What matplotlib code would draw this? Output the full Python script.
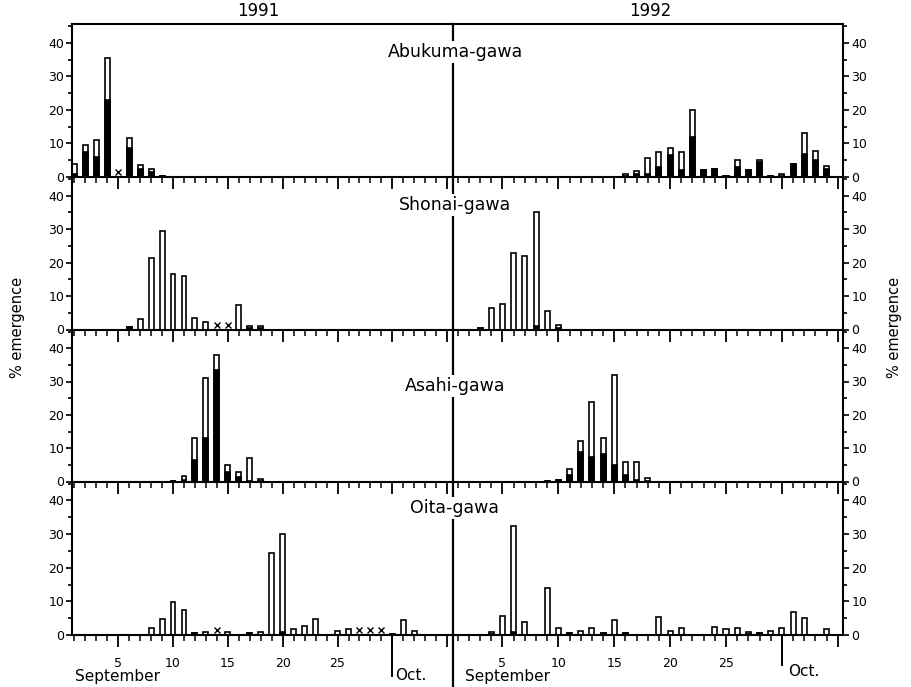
import matplotlib
matplotlib.use("Agg")
import matplotlib.pyplot as plt
from matplotlib.lines import Line2D
from matplotlib.transforms import blended_transform_factory
from matplotlib.ticker import FixedLocator, MultipleLocator

plt.rcParams['font.family'] = ['DejaVu Sans']

# ---------------- data (day of September / early October) ----------------
years = ["1991", "1992"]
rivers = ["Abukuma-gawa", "Shonai-gawa", "Asahi-gawa", "Oita-gawa"]

abukuma_1991_days = [1, 2, 3, 4, 6, 7, 8, 9]
abukuma_1991_total = [4, 9.5, 11, 35.5, 11.5, 3.5, 2.5, 0.3]
abukuma_1991_black = [1, 7.5, 6, 23, 8.5, 2.5, 1.5, 0.3]
abukuma_1991_x = [5]

abukuma_1992_days = [16, 17, 18, 19, 20, 21, 22, 23, 24, 25, 26, 27, 28, 29, 30, 31, 32, 33, 34]
abukuma_1992_total = [1, 1.7, 5.7, 7.5, 8.7, 7.5, 20, 2.2, 2.5, 0.3, 5, 2.2, 5, 0.2, 1, 3.8, 13, 7.7, 3.3]
abukuma_1992_black = [0.3, 1, 0.8, 3, 6.5, 2, 12, 2.2, 2.5, 0.3, 3, 2.2, 4.5, 0.2, 0.3, 3.8, 7, 5, 2.5]
abukuma_1992_x = []

shonai_1991_days = [6, 7, 8, 9, 10, 11, 12, 13, 16, 17, 18]
shonai_1991_total = [0.6, 3.2, 21.3, 29.4, 16.6, 16.1, 3.5, 2.2, 7.4, 1.0, 1.0]
shonai_1991_black = [0.6, 0, 0, 0, 0, 0, 0, 0, 0, 0.4, 0.4]
shonai_1991_x = [14, 15]

shonai_1992_days = [3, 4, 5, 6, 7, 8, 9, 10]
shonai_1992_total = [0.5, 6.4, 7.6, 23, 22, 35, 5.6, 1.4]
shonai_1992_black = [0.5, 0, 0, 0, 0, 1, 0, 0.3]
shonai_1992_x = []

asahi_1991_days = [10, 11, 12, 13, 14, 15, 16, 17, 18]
asahi_1991_total = [0.3, 1.6, 13.1, 31, 38, 5, 2.9, 7.1, 0.8]
asahi_1991_black = [0.3, 0.5, 6.4, 13.2, 33.5, 2.9, 1.4, 0.3, 0.3]
asahi_1991_x = []

asahi_1992_days = [9, 10, 11, 12, 13, 14, 15, 16, 17, 18]
asahi_1992_total = [0.3, 0.5, 3.8, 12.1, 23.8, 13, 32, 6, 5.8, 1.2]
asahi_1992_black = [0.3, 0.5, 2.1, 9, 7.5, 8.2, 5, 2, 0.5, 0.3]
asahi_1992_x = []

oita_1991_days = [8, 9, 10, 11, 12, 13, 15, 17, 18, 19, 20, 21, 22, 23, 25, 26, 30, 31, 32]
oita_1991_total = [2, 4.7, 9.8, 7.4, 0.7, 1, 1, 0.7, 1, 24.4, 30, 1.7, 2.8, 4.7, 1.3, 1.7, 0.3, 4.4, 1.3]
oita_1991_black = [0, 0, 0, 0, 0.5, 0, 0, 0.5, 0, 0, 1, 0, 0, 0, 0, 0, 0.3, 0, 0]
oita_1991_x = [14, 27, 28, 29]

oita_1992_days = [4, 5, 6, 7, 9, 10, 11, 12, 13, 14, 15, 16, 19, 20, 21, 24, 25, 26, 27, 28, 29, 30, 31, 32, 34]
oita_1992_total = [0.8, 5.6, 32.5, 3.8, 13.9, 2.2, 0.5, 1.2, 2.2, 0.5, 4.5, 0.5, 5.2, 1.2, 2.2, 2.5, 1.7, 2.2,
                   0.8, 0.6, 1.2, 2.2, 6.7, 5.1, 1.7]
oita_1992_black = [0.3, 0, 1, 0, 0, 0, 0.5, 0, 0, 0.5, 0, 0.5, 0, 0, 0, 0, 0, 0, 0.3, 0.5, 0, 0, 0, 0, 0]
oita_1992_x = []

panels = [
    [(abukuma_1991_days, abukuma_1991_total, abukuma_1991_black, abukuma_1991_x),
     (abukuma_1992_days, abukuma_1992_total, abukuma_1992_black, abukuma_1992_x)],
    [(shonai_1991_days, shonai_1991_total, shonai_1991_black, shonai_1991_x),
     (shonai_1992_days, shonai_1992_total, shonai_1992_black, shonai_1992_x)],
    [(asahi_1991_days, asahi_1991_total, asahi_1991_black, asahi_1991_x),
     (asahi_1992_days, asahi_1992_total, asahi_1992_black, asahi_1992_x)],
    [(oita_1991_days, oita_1991_total, oita_1991_black, oita_1991_x),
     (oita_1992_days, oita_1992_total, oita_1992_black, oita_1992_x)],
]
major_days = [5, 10, 15, 20, 25, 30, 35]
major_labels = ["5", "10", "15", "20", "25", "", ""]

# ---------------- layout (pixels) ----------------
W, H = 912, 687
fig = plt.figure(figsize=(W / 100, H / 100), dpi=100)
fx = lambda px: px / W
fy = lambda py: 1 - py / H

row_px = [(24, 177), (177, 329.5), (329.5, 481.5), (481.5, 635)]
x_left, x_mid, x_right = 72.5, 452.7, 843
xlims = [(0.836, 35.5), (0.544, 35.47)]
title_y = [52, 205, 386, 508]
LW = 1.5

axes = []
for r, (top, bot) in enumerate(row_px):
    row_axes = []
    for c in range(2):
        x0, x1 = (x_left, x_mid) if c == 0 else (x_mid, x_right)
        ax = fig.add_axes([fx(x0), fy(bot), fx(x1) - fx(x0), (bot - top) / H])
        days, tot, blk, xs = panels[r][c]
        ax.bar(days, tot, width=0.45, color="white", edgecolor="black", linewidth=1.2, zorder=2)
        bd = [d for d, b in zip(days, blk) if b > 0]
        bv = [b for b in blk if b > 0]
        ax.bar(bd, bv, width=0.45, color="black", edgecolor="black", linewidth=1.2, zorder=3)
        if xs:
            ax.plot(xs, [1.4] * len(xs), linestyle="none", marker="x", color="black",
                    markersize=5, markeredgewidth=1.0, zorder=4, clip_on=False)
        ax.set_xlim(*xlims[c])
        ax.set_ylim(0, 45.6)
        ax.set_facecolor("none")
        for s in ax.spines.values():
            s.set_linewidth(LW)
        if c == 0:
            ax.spines["right"].set_visible(False)
            ax.yaxis.tick_left()
        else:
            ax.spines["left"].set_visible(False)
            ax.yaxis.tick_right()
        if r > 0:
            ax.spines["top"].set_visible(False)
        ax.yaxis.set_major_locator(FixedLocator([0, 10, 20, 30, 40]))
        ax.yaxis.set_minor_locator(MultipleLocator(5))
        ax.tick_params(axis="y", which="major", direction="out", length=4, width=1.2,
                       labelsize=9, pad=2)
        ax.tick_params(axis="y", which="minor", direction="out", length=3, width=1.2)
        ax.xaxis.set_major_locator(FixedLocator(major_days))
        ax.xaxis.set_minor_locator(MultipleLocator(1))
        ax.tick_params(axis="x", which="major", direction="out", length=8.5, width=1.3,
                       labelsize=9, pad=7)
        ax.tick_params(axis="x", which="minor", direction="out", length=4.5, width=1.1)
        ax.tick_params(axis="x", top=False)
        if r == 3:
            ax.set_xticklabels(major_labels)
        else:
            ax.set_xticklabels([])
        row_axes.append(ax)
    axes.append(row_axes)

# long "Oct." lines at day 30
for c, ybot in [(0, 676), (1, 665)]:
    ax = axes[3][c]
    tr = blended_transform_factory(ax.transData, fig.transFigure)
    ax.add_line(Line2D([30, 30], [fy(635), fy(ybot)], transform=tr, color="black",
                       linewidth=1.4, clip_on=False))

# year divider line (interrupted by titles)
fig.add_artist(Line2D([fx(x_mid), fx(x_mid)], [fy(24), fy(687)], color="black",
                      linewidth=1.6, zorder=5))

for name, ty in zip(rivers, title_y):
    fig.text(fx(455), fy(ty), name, ha="center", va="center", fontsize=12.5, zorder=6,
             bbox=dict(facecolor="white", edgecolor="none", pad=1.5))

fig.text(fx(258), fy(11), years[0], ha="center", va="center", fontsize=12)
fig.text(fx(650), fy(11), years[1], ha="center", va="center", fontsize=12)

fig.text(fx(18), fy(327), "% emergence", rotation=90, ha="center", va="center", fontsize=10.5)
fig.text(fx(895), fy(327), "% emergence", rotation=90, ha="center", va="center", fontsize=10.5)

fig.text(fx(75), fy(676), "September", ha="left", va="center", fontsize=11)
fig.text(fx(465), fy(676), "September", ha="left", va="center", fontsize=11)
fig.text(fx(395), fy(675), "Oct.", ha="left", va="center", fontsize=11)
fig.text(fx(788), fy(671), "Oct.", ha="left", va="center", fontsize=11)

fig.savefig("out.png", dpi=100, facecolor="white")
